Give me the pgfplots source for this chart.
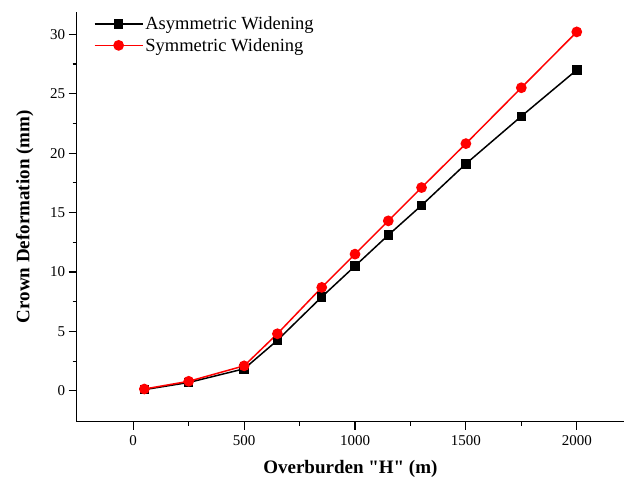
\documentclass[border=0pt]{standalone}
\usepackage{fontspec}
\setmainfont{Liberation Serif}[Ligatures=TeXOff]
\usepackage{pgfplots}
\pgfplotsset{compat=1.18}

\begin{document}
\begin{tikzpicture}
\begin{axis}[
  at={(0,0)}, anchor=south west,
  scale only axis,
  width=547.3bp, height=410bp,
  xmin=-255, xmax=2213,
  ymin=-2.6, ymax=31.9,
  axis x line*=bottom,
  axis y line*=left,
  axis line style={line width=1.3bp, -},
  xtick={0,500,...,2000},
  ytick={0,5,...,30},
  minor x tick num=1,
  minor y tick num=1,
  tick align=outside,
  major tick length=8bp,
  minor tick length=4bp,
  every tick/.style={line width=1.1bp, black},
  /pgf/number format/assume math mode=true,
  /pgf/number format/1000 sep={},
  tick label style={font=\fontsize{15bp}{18bp}\selectfont},
  xticklabel style={yshift=-2bp},
  xlabel={\textbf{Overburden "H" (m)}},
  ylabel={\textbf{Crown Deformation (mm)}},
  label style={font=\fontsize{19bp}{22bp}\selectfont},
  xlabel style={yshift=-8bp},
  ylabel style={yshift=10bp},
  legend style={
    at={(0,1)}, anchor=north west,
    xshift=14bp, yshift=-1bp,
    draw=none, fill=none,
    font=\fontsize{18.5bp}{22bp}\selectfont,
    row sep=3bp,
  },
  legend cell align=left,
  legend image code/.code={
    \draw[mark repeat=2,mark phase=2]
      plot coordinates {(0bp,0bp) (24bp,0bp) (48bp,0bp)};
  },
]
\addplot[black, line width=1.5bp, mark=square*, mark size=4bp,
         mark options={solid}]
  coordinates {
    (50,0.1) (250,0.7) (500,1.85) (650,4.25) (850,7.9) (1000,10.5)
    (1150,13.1) (1300,15.6) (1500,19.1) (1750,23.1) (2000,27.0)
  };
\addlegendentry{Asymmetric Widening}
\addplot[red, line width=1.5bp, mark=*, mark size=4.6bp,
         mark options={solid}]
  coordinates {
    (50,0.15) (250,0.8) (500,2.1) (650,4.8) (850,8.7) (1000,11.5)
    (1150,14.3) (1300,17.1) (1500,20.8) (1750,25.5) (2000,30.2)
  };
\addlegendentry{Symmetric Widening}
\end{axis}
\pgfresetboundingbox
\path (-76.7bp,-60.3bp) rectangle (547.3bp,421.7bp);
\end{tikzpicture}
\end{document}
